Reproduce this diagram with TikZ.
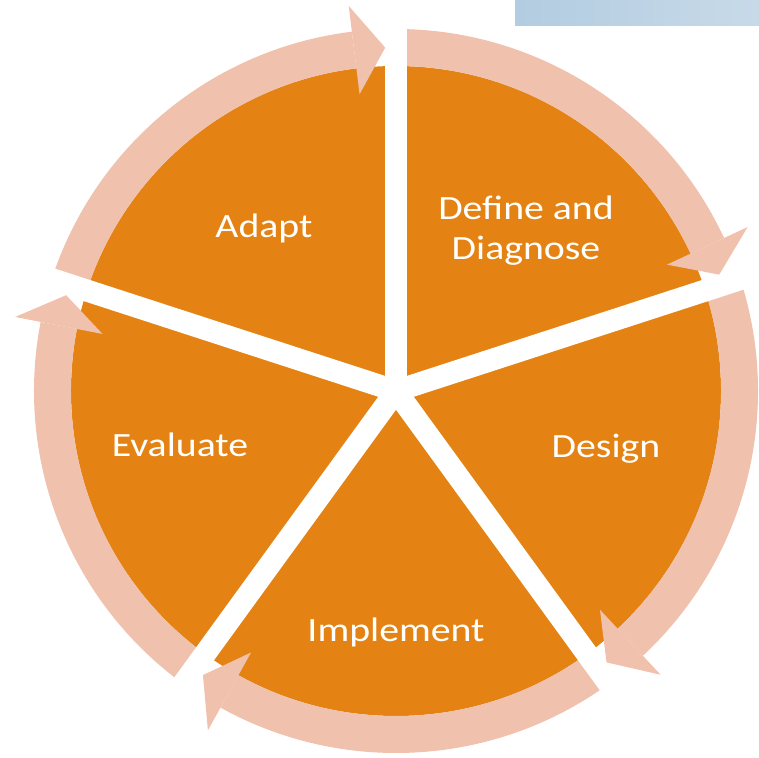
\documentclass[tikz,border=0pt]{standalone}
\usepackage{fontspec}
\newfontfamily\cyclefont[FakeStretch=1.17]{Carlito}
\definecolor{stageorange}{RGB}{228,131,19}
\definecolor{ringpink}{RGB}{240,193,172}
\definecolor{boxblueA}{RGB}{178,204,225}
\definecolor{boxblueB}{RGB}{200,218,232}
\tikzset{
  ring/.style={draw=ringpink, line width=37pt},
  tip/.style={fill=ringpink},
  gap/.style={draw=white, line width=22pt},
  stage/.style={text=white, font=\cyclefont\fontsize{34}{40.8}\selectfont, align=center, anchor=base}
}
\begin{document}
\begin{tikzpicture}[x=1pt,y=1pt]
      \useasboundingbox (0,0) rectangle (759,757);
      \shade[left color=boxblueA, right color=boxblueB] (515,731) rectangle (759,757);
      \begin{scope}[shift={(396,366)}]
        \fill[stageorange] (0,0) circle (325);
        % ring segments
        \draw[ring] (162:343.5) arc[start angle=162, end angle=97, radius=343.5];
        \draw[ring] (90:343.5) arc[start angle=90, end angle=25, radius=343.5];
        \draw[ring] (18:343.5) arc[start angle=18, end angle=-47, radius=343.5];
        \draw[ring] (-54:343.5) arc[start angle=-54, end angle=-119, radius=343.5];
        \draw[ring] (-126:343.5) arc[start angle=-126, end angle=-191, radius=343.5];
        % gaps
        \draw[gap] (0,0) -- (90:400);
        \draw[gap] (0,0) -- (18:400);
        \draw[gap] (0,0) -- (-54:400);
        \draw[gap] (0,0) -- (-126:400);
        \draw[gap] (0,0) -- (162:400);
        % arrow heads
        \fill[tip] (97:299) -- (91.8:343.5) -- (97:388) -- cycle;
        \fill[tip] (25:299) -- (19.8:343.5) -- (25:388) -- cycle;
        \fill[tip] (-47:299) -- (-52.2:343.5) -- (-47:388) -- cycle;
        \fill[tip] (-119:299) -- (-124.2:343.5) -- (-119:388) -- cycle;
        \fill[tip] (169:299) -- (163.8:343.5) -- (169:388) -- cycle;
        % labels
        \node[stage] (adapt) at (-132,153) {Adapt};
        \node[stage] (define) at (130,131) {Define and\\Diagnose};
        \node[stage] (design) at (210,-67) {Design};
        \node[stage] (implement) at (0,-250) {Implement};
        \node[stage] (evaluate) at (-216,-66) {Evaluate};
      \end{scope}
    \end{tikzpicture}
\end{document}
